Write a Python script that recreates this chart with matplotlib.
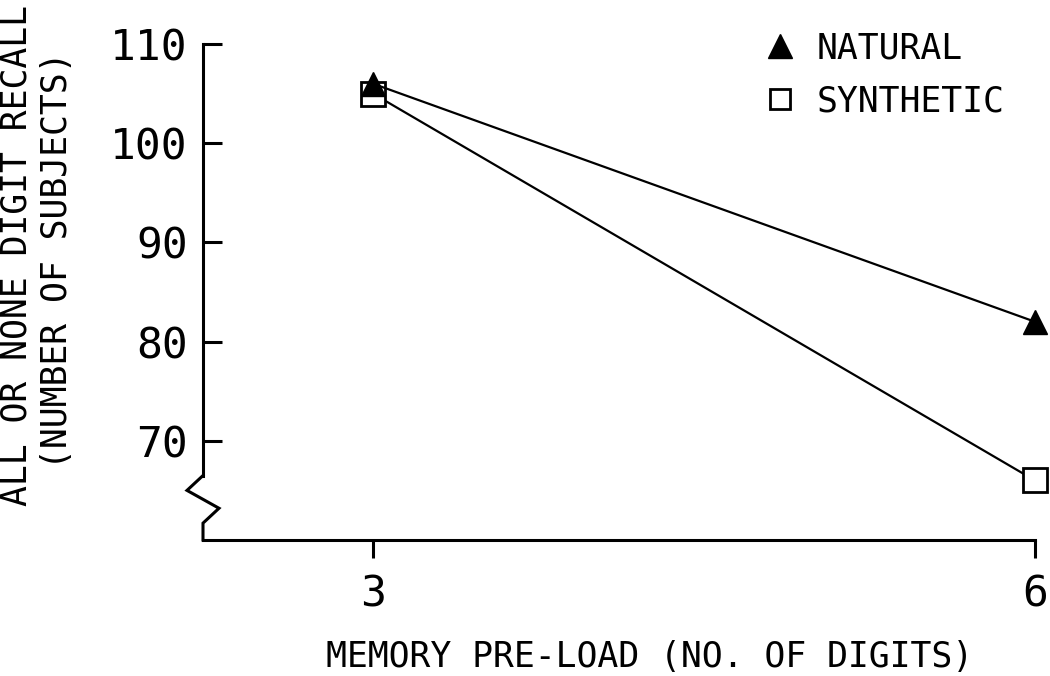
import matplotlib
matplotlib.use('Agg')
import matplotlib.pyplot as plt
from matplotlib.lines import Line2D

# data
preload = [3, 6]
natural = [106, 82]
synthetic = [105, 66]
yticks = [70, 80, 90, 100, 110]
xticks = [3, 6]

plt.rcParams['font.family'] = ['DejaVu Sans Mono', 'DejaVu Sans']

fig = plt.figure(figsize=(10.5, 6.76), dpi=100)
ax = fig.add_axes([203/1050, 1-540/676, (1035-203)/1050, (540-44)/676])

ax.plot(preload, natural, color='black', lw=1.6, marker='^', ms=17, mfc='black', mec='black', clip_on=False, zorder=3)
ax.plot(preload, synthetic, color='black', lw=1.6, marker='s', ms=17, mfc='white', mec='black', mew=2, clip_on=False, zorder=2)

ax.set_xlim(2.23, 6)
ax.set_ylim(60, 110)
ax.set_xticks(xticks)
ax.set_yticks(yticks)
ax.tick_params(axis='y', direction='in', length=14, width=2.2, labelsize=31, pad=11)
ax.tick_params(axis='x', direction='out', length=13, width=2.2, labelsize=31, pad=11)

for s in ['top', 'right']:
    ax.spines[s].set_visible(False)
ax.spines['left'].set_bounds(66.5, 110)
ax.spines['left'].set_linewidth(2.2)
ax.spines['bottom'].set_linewidth(2.2)

# axis break zigzag
dx = 16 / 220.7
x0 = 2.23
ax.plot([x0, x0 - dx, x0 + dx, x0, x0], [66.5, 65.0, 63.2, 61.7, 60],
        color='black', lw=2.2, clip_on=False, solid_joinstyle='miter')

handles = [Line2D([], [], ls='none', marker='^', ms=17, mfc='black', mec='black'),
           Line2D([], [], ls='none', marker='s', ms=15, mfc='white', mec='black', mew=2)]
fig.legend(handles, ['NATURAL', 'SYNTHETIC'], loc='upper left',
           bbox_to_anchor=(745/1050, 1-14/676), frameon=False, fontsize=25,
           handlelength=1.0, handletextpad=0.55, labelspacing=0.55, borderpad=0)

fig.text(650/1050, 1-657/676, 'MEMORY PRE-LOAD (NO. OF DIGITS)', ha='center', va='center', fontsize=25)
fig.text(17/1050, 1-255/676, 'ALL OR NONE DIGIT RECALL', ha='center', va='center', rotation=90, fontsize=25)
fig.text(57/1050, 1-260/676, '(NUMBER OF SUBJECTS)', ha='center', va='center', rotation=90, fontsize=25)

fig.savefig('out.png', dpi=100)
